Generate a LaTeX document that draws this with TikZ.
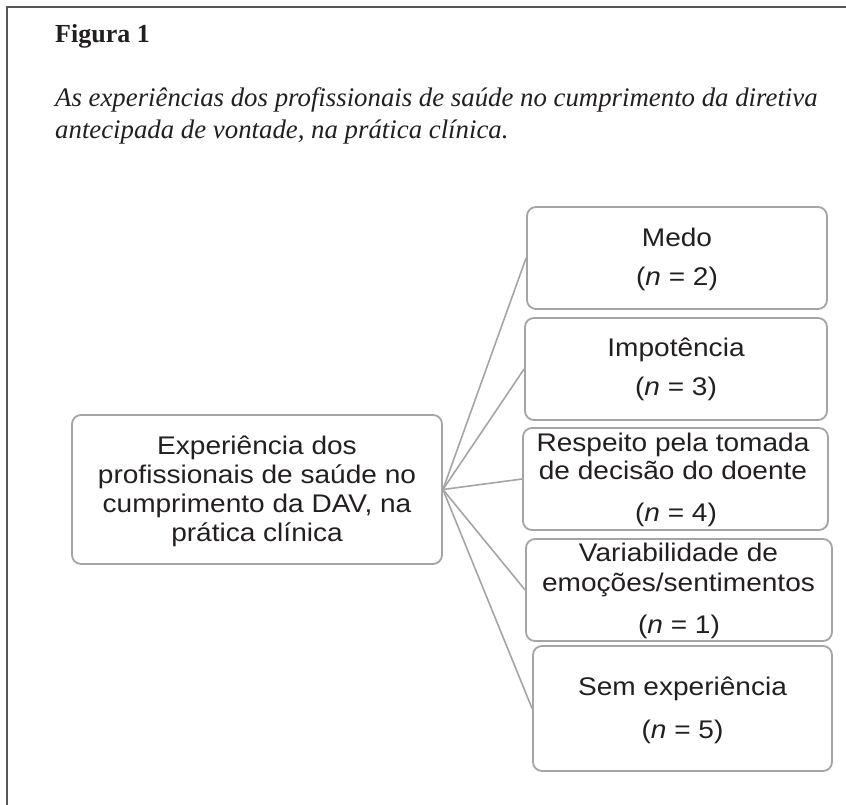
\documentclass[tikz,border=0pt]{standalone}
\usepackage{fontspec}
\setmainfont{Liberation Serif}
\newfontfamily\boxfont[FakeStretch=1.1]{Liberation Sans}
\definecolor{boxgray}{HTML}{A5A5A5}
\definecolor{framegray}{HTML}{555555}
\definecolor{ink}{HTML}{231F20}
\begin{document}
\begin{tikzpicture}[x=1pt,y=-1pt,
  frameline/.style={draw=framegray, line width=2pt},
  stepbox/.style={draw=boxgray, line width=1.8pt, rounded corners=9pt, rectangle, inner sep=0pt},
  conn/.style={draw=boxgray, line width=1.6pt},
  btext/.style={font=\boxfont\fontsize{25.5}{29}\selectfont, text=ink, anchor=base, inner sep=0pt},
  ttext/.style={text=ink, anchor=base west, inner sep=0pt}
]
\useasboundingbox (0,0) rectangle (846,805);
\fill[white] (0,0) rectangle (846,805);
% outer frame (top and left only)
\coordinate (fa) at (7,805);
\coordinate (fb) at (7,7);
\coordinate (fc) at (846,7);
\draw[frameline] (fa) -- (fb) -- (fc);

% title and caption
\node[ttext, font=\bfseries\fontsize{26}{30}\selectfont] (title) at (55,43) {Figura 1};
\node[ttext, font=\itshape\fontsize{26.8}{31}\selectfont] (cap1) at (55,107) {As experiências dos profissionais de saúde no cumprimento da diretiva};
\node[ttext, font=\itshape\fontsize{26.8}{31}\selectfont] (cap2) at (55,138.5) {antecipada de vontade, na prática clínica.};

% boxes
\node[stepbox, minimum width=370pt, minimum height=149pt] (main) at (257,489.5) {};
\node[stepbox, minimum width=300pt, minimum height=102pt] (medo) at (677,258) {};
\node[stepbox, minimum width=302pt, minimum height=102pt] (impo) at (676,369) {};
\node[stepbox, minimum width=305pt, minimum height=102pt] (resp) at (675.5,479) {};
\node[stepbox, minimum width=306pt, minimum height=102pt] (vari) at (679,590) {};
\node[stepbox, minimum width=299pt, minimum height=125pt] (sem) at (682.5,708.5) {};

% connectors
\draw[conn] (main.east) -- (medo.west);
\draw[conn] (main.east) -- (impo.west);
\draw[conn] (main.east) -- (resp.west);
\draw[conn] (main.east) -- (vari.west);
\draw[conn] (main.east) -- (sem.west);

% box texts
\node[btext] (m1) at (257,454) {Experiência dos};
\node[btext] (m2) at (257,483) {profissionais de saúde no};
\node[btext] (m3) at (257,512) {cumprimento da DAV, na};
\node[btext] (m4) at (257,541) {prática clínica};

\node[btext] (a1) at (677,246.7) {Medo};
\node[btext] (a2) at (677,285) {(\textit{n} = 2)};

\node[btext] (b1) at (676,356.7) {Impotência};
\node[btext] (b2) at (676,395) {(\textit{n} = 3)};

\node[btext] (c1) at (673,451.7) {Respeito pela tomada};
\node[btext] (c2) at (673,479.5) {de decisão do doente};
\node[btext] (c3) at (676,521.7) {(\textit{n} = 4)};

\node[btext] (d1) at (678.5,561.7) {Variabilidade de};
\node[btext] (d2) at (678.5,591.7) {emoções/sentimentos};
\node[btext] (d3) at (679,633) {(\textit{n} = 1)};

\node[btext] (e1) at (682.5,695) {Sem experiência};
\node[btext] (e2) at (682.5,738) {(\textit{n} = 5)};
\end{tikzpicture}
\end{document}
